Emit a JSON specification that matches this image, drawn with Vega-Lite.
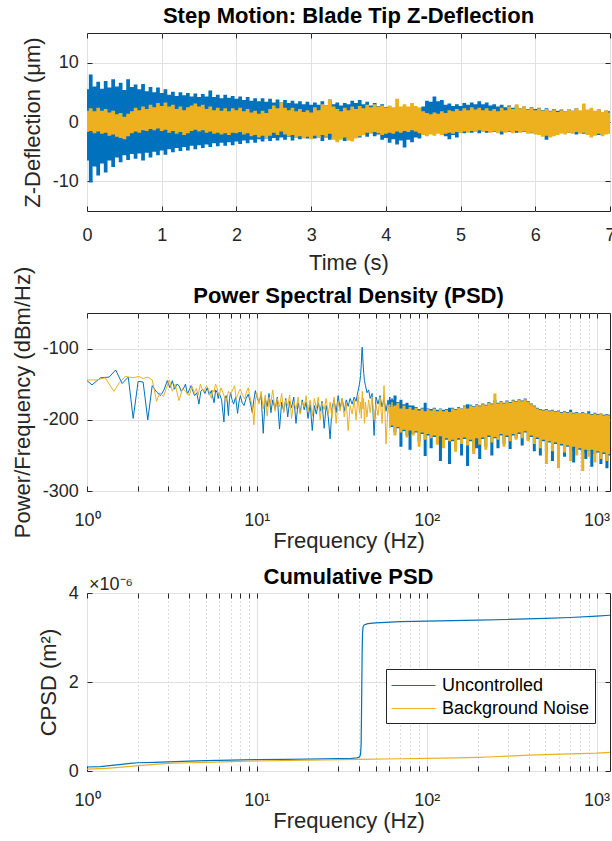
{
  "$schema": "https://vega.github.io/schema/vega-lite/v6.json",
  "padding": {"left": 11, "top": 4, "right": 0, "bottom": 0},
  "config": {
    "font": "Liberation Sans",
    "view": {"stroke": "#262626", "strokeWidth": 1},
    "axis": {
      "labelFont": "Liberation Sans", "labelFontSize": 18, "labelColor": "#262626",
      "titleFont": "Liberation Sans", "titleFontSize": 22, "titleFontWeight": "normal", "titleColor": "#262626",
      "domain": false, "tickColor": "#262626", "tickSize": -5, "tickWidth": 1,
      "gridColor": "#e0e0e0", "gridWidth": 1, "labelFlush": false, "labelOverlap": false
    },
    "title": {"font": "Liberation Sans", "fontSize": 22, "fontWeight": "bold", "color": "#000000", "offset": 4.4, "baseline": "alphabetic"}
  },
  "datasets": {
    "ts": [
      {"t":0,"ulo":-6.5,"uhi":5.5,"blo":-1.7,"bhi":1.9},
      {"t":0.05,"ulo":-10.2,"uhi":8.0,"blo":-1.5,"bhi":2.3},
      {"t":0.1,"ulo":-7.5,"uhi":6.0,"blo":-1.9,"bhi":1.8},
      {"t":0.15,"ulo":-9.0,"uhi":6.8,"blo":-1.6,"bhi":2.4},
      {"t":0.2,"ulo":-7.0,"uhi":5.6,"blo":-2.0,"bhi":1.9},
      {"t":0.25,"ulo":-8.5,"uhi":6.9,"blo":-1.8,"bhi":2.2},
      {"t":0.3,"ulo":-6.5,"uhi":5.8,"blo":-2.3,"bhi":1.6},
      {"t":0.35,"ulo":-7.6,"uhi":7.2,"blo":-2.1,"bhi":1.9},
      {"t":0.4,"ulo":-6.0,"uhi":6.0,"blo":-2.5,"bhi":1.3},
      {"t":0.45,"ulo":-6.8,"uhi":6.6,"blo":-2.7,"bhi":1.5},
      {"t":0.5,"ulo":-5.6,"uhi":5.4,"blo":-2.9,"bhi":0.9},
      {"t":0.55,"ulo":-6.4,"uhi":7.2,"blo":-2.4,"bhi":1.4},
      {"t":0.6,"ulo":-5.4,"uhi":5.9,"blo":-1.9,"bhi":1.8},
      {"t":0.65,"ulo":-6.2,"uhi":6.3,"blo":-1.6,"bhi":2.4},
      {"t":0.7,"ulo":-5.3,"uhi":5.5,"blo":-1.8,"bhi":2.0},
      {"t":0.75,"ulo":-6.5,"uhi":6.4,"blo":-1.4,"bhi":2.6},
      {"t":0.8,"ulo":-5.2,"uhi":5.2,"blo":-1.5,"bhi":2.2},
      {"t":0.85,"ulo":-6.0,"uhi":5.9,"blo":-1.2,"bhi":2.9},
      {"t":0.9,"ulo":-5.0,"uhi":5.0,"blo":-1.4,"bhi":2.5},
      {"t":0.95,"ulo":-5.6,"uhi":5.8,"blo":-1.1,"bhi":3.2},
      {"t":1,"ulo":-4.8,"uhi":4.9,"blo":-1.5,"bhi":2.7},
      {"t":1.05,"ulo":-5.5,"uhi":5.5,"blo":-1.3,"bhi":3.3},
      {"t":1.1,"ulo":-4.6,"uhi":4.6,"blo":-1.8,"bhi":2.6},
      {"t":1.15,"ulo":-5.1,"uhi":5.1,"blo":-1.5,"bhi":2.9},
      {"t":1.2,"ulo":-4.4,"uhi":4.4,"blo":-2.0,"bhi":2.2},
      {"t":1.25,"ulo":-4.9,"uhi":5.0,"blo":-1.7,"bhi":2.6},
      {"t":1.3,"ulo":-4.2,"uhi":4.5,"blo":-2.2,"bhi":2.0},
      {"t":1.35,"ulo":-4.8,"uhi":4.9,"blo":-1.9,"bhi":2.5},
      {"t":1.4,"ulo":-4.0,"uhi":4.3,"blo":-1.5,"bhi":2.8},
      {"t":1.45,"ulo":-4.6,"uhi":4.8,"blo":-1.3,"bhi":3.1},
      {"t":1.5,"ulo":-3.9,"uhi":4.2,"blo":-1.6,"bhi":2.6},
      {"t":1.55,"ulo":-4.4,"uhi":4.7,"blo":-1.4,"bhi":2.9},
      {"t":1.6,"ulo":-3.8,"uhi":4.3,"blo":-1.8,"bhi":2.2},
      {"t":1.65,"ulo":-4.2,"uhi":5.3,"blo":-1.6,"bhi":2.6},
      {"t":1.7,"ulo":-3.6,"uhi":4.2,"blo":-2.0,"bhi":2.0},
      {"t":1.75,"ulo":-4.1,"uhi":4.6,"blo":-1.8,"bhi":2.4},
      {"t":1.8,"ulo":-3.5,"uhi":4.0,"blo":-2.1,"bhi":1.9},
      {"t":1.85,"ulo":-4.0,"uhi":4.6,"blo":-1.9,"bhi":2.3},
      {"t":1.9,"ulo":-3.4,"uhi":4.1,"blo":-2.2,"bhi":1.8},
      {"t":1.95,"ulo":-3.9,"uhi":4.4,"blo":-1.8,"bhi":2.3},
      {"t":2,"ulo":-3.3,"uhi":3.9,"blo":-1.9,"bhi":2.0},
      {"t":2.05,"ulo":-3.7,"uhi":4.3,"blo":-1.7,"bhi":2.4},
      {"t":2.1,"ulo":-3.1,"uhi":3.7,"blo":-2.1,"bhi":1.8},
      {"t":2.15,"ulo":-3.6,"uhi":4.2,"blo":-1.9,"bhi":2.2},
      {"t":2.2,"ulo":-3.0,"uhi":3.6,"blo":-2.4,"bhi":1.6},
      {"t":2.25,"ulo":-3.5,"uhi":4.0,"blo":-2.2,"bhi":1.9},
      {"t":2.3,"ulo":-2.9,"uhi":3.5,"blo":-2.6,"bhi":1.4},
      {"t":2.35,"ulo":-3.3,"uhi":4.0,"blo":-2.3,"bhi":1.9},
      {"t":2.4,"ulo":-2.8,"uhi":3.4,"blo":-2.7,"bhi":1.5},
      {"t":2.45,"ulo":-3.2,"uhi":3.9,"blo":-2.3,"bhi":2.2},
      {"t":2.5,"ulo":-2.7,"uhi":3.3,"blo":-1.8,"bhi":2.8},
      {"t":2.55,"ulo":-3.1,"uhi":3.8,"blo":-2.2,"bhi":2.3},
      {"t":2.6,"ulo":-2.6,"uhi":3.3,"blo":-1.6,"bhi":3.3},
      {"t":2.65,"ulo":-3.0,"uhi":3.7,"blo":-2.1,"bhi":2.4},
      {"t":2.7,"ulo":-2.5,"uhi":3.2,"blo":-2.4,"bhi":2.0},
      {"t":2.75,"ulo":-3.1,"uhi":3.6,"blo":-2.2,"bhi":2.4},
      {"t":2.8,"ulo":-2.6,"uhi":3.1,"blo":-2.6,"bhi":1.8},
      {"t":2.85,"ulo":-2.9,"uhi":3.5,"blo":-2.4,"bhi":2.2},
      {"t":2.9,"ulo":-2.4,"uhi":3.0,"blo":-2.8,"bhi":1.7},
      {"t":2.95,"ulo":-2.8,"uhi":3.4,"blo":-2.5,"bhi":2.0},
      {"t":3,"ulo":-2.4,"uhi":2.9,"blo":-2.9,"bhi":1.6},
      {"t":3.05,"ulo":-2.8,"uhi":3.3,"blo":-2.3,"bhi":2.5},
      {"t":3.1,"ulo":-2.3,"uhi":2.9,"blo":-2.7,"bhi":2.0},
      {"t":3.15,"ulo":-3.2,"uhi":3.5,"blo":-2.2,"bhi":3.0},
      {"t":3.2,"ulo":-2.6,"uhi":2.8,"blo":-2.5,"bhi":2.7},
      {"t":3.25,"ulo":-3.0,"uhi":3.8,"blo":-2.0,"bhi":3.8},
      {"t":3.3,"ulo":-2.6,"uhi":3.0,"blo":-3.0,"bhi":2.6},
      {"t":3.35,"ulo":-3.1,"uhi":3.3,"blo":-3.4,"bhi":2.2},
      {"t":3.4,"ulo":-2.5,"uhi":2.8,"blo":-3.0,"bhi":1.8},
      {"t":3.45,"ulo":-3.2,"uhi":3.2,"blo":-2.6,"bhi":2.4},
      {"t":3.5,"ulo":-2.6,"uhi":3.0,"blo":-3.1,"bhi":2.0},
      {"t":3.55,"ulo":-2.9,"uhi":3.6,"blo":-3.3,"bhi":2.6},
      {"t":3.6,"ulo":-2.2,"uhi":3.2,"blo":-2.8,"bhi":2.2},
      {"t":3.65,"ulo":-2.6,"uhi":3.7,"blo":-2.4,"bhi":2.7},
      {"t":3.7,"ulo":-2.0,"uhi":3.0,"blo":-2.2,"bhi":2.3},
      {"t":3.75,"ulo":-2.5,"uhi":3.4,"blo":-1.8,"bhi":2.9},
      {"t":3.8,"ulo":-1.9,"uhi":2.8,"blo":-2.0,"bhi":2.5},
      {"t":3.85,"ulo":-2.4,"uhi":3.2,"blo":-1.7,"bhi":3.0},
      {"t":3.9,"ulo":-2.1,"uhi":2.7,"blo":-1.9,"bhi":2.6},
      {"t":3.95,"ulo":-3.0,"uhi":3.0,"blo":-2.2,"bhi":2.8},
      {"t":4,"ulo":-2.7,"uhi":2.5,"blo":-2.0,"bhi":2.4},
      {"t":4.05,"ulo":-3.5,"uhi":2.6,"blo":-1.8,"bhi":2.8},
      {"t":4.1,"ulo":-2.9,"uhi":2.3,"blo":-2.0,"bhi":2.5},
      {"t":4.15,"ulo":-3.8,"uhi":2.5,"blo":-1.6,"bhi":3.9},
      {"t":4.2,"ulo":-3.1,"uhi":2.2,"blo":-1.8,"bhi":2.6},
      {"t":4.25,"ulo":-4.3,"uhi":2.5,"blo":-1.5,"bhi":3.0},
      {"t":4.3,"ulo":-3.0,"uhi":2.2,"blo":-1.7,"bhi":2.6},
      {"t":4.35,"ulo":-3.4,"uhi":2.4,"blo":-1.4,"bhi":3.2},
      {"t":4.4,"ulo":-2.6,"uhi":2.1,"blo":-1.6,"bhi":2.7},
      {"t":4.45,"ulo":-2.8,"uhi":2.4,"blo":-1.9,"bhi":2.4},
      {"t":4.5,"ulo":-1.8,"uhi":2.6,"blo":-2.2,"bhi":1.8},
      {"t":4.55,"ulo":-2.1,"uhi":3.6,"blo":-2.4,"bhi":1.5},
      {"t":4.6,"ulo":-1.6,"uhi":3.4,"blo":-2.1,"bhi":1.3},
      {"t":4.65,"ulo":-2.0,"uhi":4.3,"blo":-2.3,"bhi":1.6},
      {"t":4.7,"ulo":-1.7,"uhi":3.5,"blo":-2.0,"bhi":1.4},
      {"t":4.75,"ulo":-2.2,"uhi":3.7,"blo":-2.2,"bhi":1.8},
      {"t":4.8,"ulo":-2.4,"uhi":2.9,"blo":-2.0,"bhi":1.5},
      {"t":4.85,"ulo":-2.9,"uhi":3.1,"blo":-1.8,"bhi":2.0},
      {"t":4.9,"ulo":-2.2,"uhi":2.7,"blo":-2.0,"bhi":1.8},
      {"t":4.95,"ulo":-2.6,"uhi":3.0,"blo":-1.7,"bhi":2.2},
      {"t":5,"ulo":-1.6,"uhi":2.7,"blo":-1.9,"bhi":1.9},
      {"t":5.05,"ulo":-1.9,"uhi":3.2,"blo":-1.6,"bhi":2.3},
      {"t":5.1,"ulo":-1.4,"uhi":2.9,"blo":-1.8,"bhi":2.0},
      {"t":5.15,"ulo":-1.8,"uhi":3.3,"blo":-1.5,"bhi":2.5},
      {"t":5.2,"ulo":-1.3,"uhi":3.0,"blo":-1.7,"bhi":2.1},
      {"t":5.25,"ulo":-1.9,"uhi":3.5,"blo":-1.4,"bhi":2.4},
      {"t":5.3,"ulo":-1.4,"uhi":3.0,"blo":-1.7,"bhi":2.0},
      {"t":5.35,"ulo":-1.8,"uhi":3.3,"blo":-1.5,"bhi":2.3},
      {"t":5.4,"ulo":-1.3,"uhi":2.8,"blo":-1.8,"bhi":1.9},
      {"t":5.45,"ulo":-1.7,"uhi":3.0,"blo":-1.6,"bhi":2.2},
      {"t":5.5,"ulo":-1.2,"uhi":2.6,"blo":-1.9,"bhi":1.8},
      {"t":5.55,"ulo":-2.1,"uhi":2.9,"blo":-1.6,"bhi":2.4},
      {"t":5.6,"ulo":-1.4,"uhi":2.5,"blo":-1.8,"bhi":2.0},
      {"t":5.65,"ulo":-1.7,"uhi":2.8,"blo":-1.6,"bhi":2.6},
      {"t":5.7,"ulo":-1.3,"uhi":2.4,"blo":-1.9,"bhi":2.2},
      {"t":5.75,"ulo":-1.8,"uhi":2.7,"blo":-1.5,"bhi":3.0},
      {"t":5.8,"ulo":-1.3,"uhi":2.3,"blo":-1.8,"bhi":2.3},
      {"t":5.85,"ulo":-1.7,"uhi":2.6,"blo":-1.6,"bhi":2.6},
      {"t":5.9,"ulo":-1.4,"uhi":2.2,"blo":-2.0,"bhi":2.1},
      {"t":5.95,"ulo":-1.9,"uhi":2.5,"blo":-1.8,"bhi":2.4},
      {"t":6,"ulo":-1.5,"uhi":2.2,"blo":-2.1,"bhi":2.0},
      {"t":6.05,"ulo":-2.0,"uhi":2.4,"blo":-2.2,"bhi":2.3},
      {"t":6.1,"ulo":-1.6,"uhi":2.0,"blo":-2.5,"bhi":1.9},
      {"t":6.15,"ulo":-3.0,"uhi":2.3,"blo":-2.3,"bhi":2.2},
      {"t":6.2,"ulo":-1.7,"uhi":1.9,"blo":-2.6,"bhi":1.8},
      {"t":6.25,"ulo":-2.0,"uhi":2.2,"blo":-2.4,"bhi":2.1},
      {"t":6.3,"ulo":-1.5,"uhi":1.9,"blo":-2.2,"bhi":1.7},
      {"t":6.35,"ulo":-1.9,"uhi":2.1,"blo":-1.9,"bhi":2.0},
      {"t":6.4,"ulo":-1.4,"uhi":1.8,"blo":-2.1,"bhi":1.8},
      {"t":6.45,"ulo":-1.8,"uhi":2.2,"blo":-1.8,"bhi":2.2},
      {"t":6.5,"ulo":-1.5,"uhi":1.9,"blo":-2.0,"bhi":1.9},
      {"t":6.55,"ulo":-2.1,"uhi":2.3,"blo":-1.7,"bhi":2.3},
      {"t":6.6,"ulo":-1.6,"uhi":1.8,"blo":-2.0,"bhi":2.0},
      {"t":6.65,"ulo":-2.0,"uhi":2.1,"blo":-1.8,"bhi":3.1},
      {"t":6.7,"ulo":-1.5,"uhi":1.7,"blo":-2.2,"bhi":2.1},
      {"t":6.75,"ulo":-1.9,"uhi":2.0,"blo":-2.6,"bhi":2.4},
      {"t":6.8,"ulo":-1.6,"uhi":1.7,"blo":-2.3,"bhi":1.9},
      {"t":6.85,"ulo":-2.2,"uhi":2.1,"blo":-2.0,"bhi":2.2},
      {"t":6.9,"ulo":-1.7,"uhi":1.6,"blo":-2.4,"bhi":1.7},
      {"t":6.95,"ulo":-2.0,"uhi":1.9,"blo":-2.1,"bhi":2.0},
      {"t":7,"ulo":-1.6,"uhi":1.8,"blo":-2.0,"bhi":1.6}
    ],
    "psdl": [
      {"f":1,"s":"U","v":-145},{"f":1.07,"s":"U","v":-151},{"f":1.2,"s":"U","v":-141},{"f":1.35,"s":"U","v":-140},
      {"f":1.475,"s":"U","v":-130},{"f":1.61,"s":"U","v":-149},{"f":1.75,"s":"U","v":-140},{"f":1.87,"s":"U","v":-198},
      {"f":2,"s":"U","v":-146},{"f":2.14,"s":"U","v":-147},{"f":2.28,"s":"U","v":-200},{"f":2.42,"s":"U","v":-152},
      {"f":2.57,"s":"U","v":-161},{"f":2.71,"s":"U","v":-166},{"f":2.84,"s":"U","v":-158},{"f":2.97,"s":"U","v":-145},
      {"f":3.08,"s":"U","v":-155},{"f":3.18,"s":"U","v":-145},{"f":3.28,"s":"U","v":-157},{"f":3.38,"s":"U","v":-150},
      {"f":3.48,"s":"U","v":-152},{"f":3.59,"s":"U","v":-160},{"f":3.7,"s":"U","v":-156},{"f":3.8,"s":"U","v":-150},
      {"f":3.9,"s":"U","v":-164},{"f":4,"s":"U","v":-158},{"f":4.1,"s":"U","v":-152},{"f":4.2,"s":"U","v":-160},
      {"f":4.3,"s":"U","v":-166},{"f":4.43,"s":"U","v":-162},{"f":4.56,"s":"U","v":-178},{"f":4.68,"s":"U","v":-160},
      {"f":4.8,"s":"U","v":-157},{"f":4.95,"s":"U","v":-163},{"f":5.1,"s":"U","v":-155},{"f":5.25,"s":"U","v":-165},
      {"f":5.4,"s":"U","v":-159},{"f":5.5,"s":"U","v":-168},{"f":5.6,"s":"U","v":-176},{"f":5.72,"s":"U","v":-158},
      {"f":5.84,"s":"U","v":-162},{"f":5.92,"s":"U","v":-170},{"f":6,"s":"U","v":-162},{"f":6.2,"s":"U","v":-172},
      {"f":6.4,"s":"U","v":-203},{"f":6.5,"s":"U","v":-170},{"f":6.6,"s":"U","v":-166},{"f":6.7,"s":"U","v":-175},
      {"f":6.8,"s":"U","v":-194},{"f":6.9,"s":"U","v":-170},{"f":7,"s":"U","v":-162},{"f":7.15,"s":"U","v":-172},
      {"f":7.3,"s":"U","v":-178},{"f":7.5,"s":"U","v":-168},{"f":7.7,"s":"U","v":-191},{"f":7.85,"s":"U","v":-175},
      {"f":8,"s":"U","v":-166},{"f":8.2,"s":"U","v":-176},{"f":8.4,"s":"U","v":-180},{"f":8.65,"s":"U","v":-170},
      {"f":8.9,"s":"U","v":-164},{"f":9.15,"s":"U","v":-175},{"f":9.4,"s":"U","v":-190},{"f":9.6,"s":"U","v":-172},
      {"f":9.8,"s":"U","v":-159},{"f":10,"s":"U","v":-168},
      {"f":10.3,"s":"U","v":-175},{"f":10.6,"s":"U","v":-165},{"f":10.9,"s":"U","v":-219},{"f":11.2,"s":"U","v":-170},
      {"f":11.5,"s":"U","v":-182},{"f":11.8,"s":"U","v":-163},{"f":12.1,"s":"U","v":-190},{"f":12.4,"s":"U","v":-172},
      {"f":12.8,"s":"U","v":-185},{"f":13.2,"s":"U","v":-168},{"f":13.6,"s":"U","v":-213},{"f":14,"s":"U","v":-175},
      {"f":14.4,"s":"U","v":-188},{"f":14.8,"s":"U","v":-170},{"f":15.2,"s":"U","v":-196},{"f":15.6,"s":"U","v":-174},
      {"f":16,"s":"U","v":-183},{"f":16.5,"s":"U","v":-168},{"f":17,"s":"U","v":-205},{"f":17.5,"s":"U","v":-176},
      {"f":18,"s":"U","v":-190},{"f":18.5,"s":"U","v":-172},{"f":19,"s":"U","v":-186},{"f":19.5,"s":"U","v":-175},
      {"f":20,"s":"U","v":-198},{"f":20.6,"s":"U","v":-178},{"f":21.2,"s":"U","v":-215},{"f":21.8,"s":"U","v":-180},
      {"f":22.4,"s":"U","v":-192},{"f":23,"s":"U","v":-176},{"f":23.6,"s":"U","v":-188},{"f":24.2,"s":"U","v":-174},
      {"f":24.9,"s":"U","v":-212},{"f":25.6,"s":"U","v":-180},{"f":26.3,"s":"U","v":-195},{"f":27,"s":"U","v":-227},
      {"f":27.7,"s":"U","v":-183},{"f":28.5,"s":"U","v":-172},{"f":29.3,"s":"U","v":-190},{"f":30.1,"s":"U","v":-166},
      {"f":30.9,"s":"U","v":-184},{"f":31.8,"s":"U","v":-170},{"f":32.7,"s":"U","v":-188},{"f":33.6,"s":"U","v":-172},
      {"f":34.5,"s":"U","v":-181},{"f":35.4,"s":"U","v":-170},{"f":36.4,"s":"U","v":-178},{"f":37.4,"s":"U","v":-168},
      {"f":38.4,"s":"U","v":-174},{"f":39.4,"s":"U","v":-160},{"f":40.2,"s":"U","v":-150},{"f":40.8,"s":"U","v":-138},
      {"f":41.2,"s":"U","v":-122},{"f":41.5,"s":"U","v":-105},{"f":41.7,"s":"U","v":-98},{"f":41.9,"s":"U","v":-106},
      {"f":42.2,"s":"U","v":-120},{"f":42.6,"s":"U","v":-135},{"f":43,"s":"U","v":-145},{"f":43.6,"s":"U","v":-152},
      {"f":44.5,"s":"U","v":-162},{"f":45.5,"s":"U","v":-158},{"f":46.5,"s":"U","v":-170},{"f":47.7,"s":"U","v":-163},
      {"f":49,"s":"U","v":-222},{"f":50.3,"s":"U","v":-168},{"f":51.7,"s":"U","v":-178},{"f":53.1,"s":"U","v":-166},
      {"f":54.6,"s":"U","v":-182},{"f":56.1,"s":"U","v":-170},{"f":57.6,"s":"U","v":-188},{"f":59.2,"s":"U","v":-172},
      {"f":60.8,"s":"U","v":-190},{"f":62.5,"s":"U","v":-170},{"f":64.2,"s":"U","v":-185},{"f":66,"s":"U","v":-168},
      {"f":1,"s":"B","v":-144},{"f":1.14,"s":"B","v":-144},{"f":1.28,"s":"B","v":-141},{"f":1.44,"s":"B","v":-160},
      {"f":1.55,"s":"B","v":-148},{"f":1.68,"s":"B","v":-139},{"f":1.87,"s":"B","v":-141},{"f":2.02,"s":"B","v":-139},
      {"f":2.14,"s":"B","v":-142},{"f":2.28,"s":"B","v":-140},{"f":2.42,"s":"B","v":-144},{"f":2.57,"s":"B","v":-174},
      {"f":2.68,"s":"B","v":-162},{"f":2.82,"s":"B","v":-167},{"f":3.05,"s":"B","v":-144},{"f":3.18,"s":"B","v":-160},
      {"f":3.3,"s":"B","v":-150},{"f":3.48,"s":"B","v":-173},{"f":3.65,"s":"B","v":-156},{"f":3.8,"s":"B","v":-160},
      {"f":4,"s":"B","v":-166},{"f":4.15,"s":"B","v":-153},{"f":4.28,"s":"B","v":-162},{"f":4.4,"s":"B","v":-156},
      {"f":4.52,"s":"B","v":-165},{"f":4.65,"s":"B","v":-150},{"f":4.78,"s":"B","v":-158},{"f":4.9,"s":"B","v":-160},
      {"f":5.05,"s":"B","v":-152},{"f":5.2,"s":"B","v":-157},{"f":5.3,"s":"B","v":-165},{"f":5.4,"s":"B","v":-170},
      {"f":5.5,"s":"B","v":-158},{"f":5.6,"s":"B","v":-161},{"f":5.7,"s":"B","v":-150},{"f":5.8,"s":"B","v":-152},
      {"f":5.9,"s":"B","v":-163},{"f":6,"s":"B","v":-166},{"f":6.15,"s":"B","v":-155},{"f":6.3,"s":"B","v":-161},
      {"f":6.45,"s":"B","v":-168},{"f":6.6,"s":"B","v":-174},{"f":6.8,"s":"B","v":-160},{"f":7,"s":"B","v":-164},
      {"f":7.2,"s":"B","v":-158},{"f":7.4,"s":"B","v":-152},{"f":7.55,"s":"B","v":-170},{"f":7.7,"s":"B","v":-166},
      {"f":7.85,"s":"B","v":-160},{"f":8,"s":"B","v":-157},{"f":8.25,"s":"B","v":-166},{"f":8.5,"s":"B","v":-171},
      {"f":8.7,"s":"B","v":-160},{"f":8.9,"s":"B","v":-155},{"f":9.1,"s":"B","v":-168},{"f":9.3,"s":"B","v":-176},
      {"f":9.45,"s":"B","v":-185},{"f":9.6,"s":"B","v":-207},{"f":9.8,"s":"B","v":-172},{"f":10,"s":"B","v":-162},
      {"f":10.3,"s":"B","v":-178},{"f":10.6,"s":"B","v":-160},{"f":10.9,"s":"B","v":-185},{"f":11.2,"s":"B","v":-165},
      {"f":11.5,"s":"B","v":-195},{"f":11.8,"s":"B","v":-168},{"f":12.1,"s":"B","v":-176},{"f":12.4,"s":"B","v":-158},
      {"f":12.8,"s":"B","v":-188},{"f":13.2,"s":"B","v":-170},{"f":13.6,"s":"B","v":-182},{"f":14,"s":"B","v":-163},
      {"f":14.4,"s":"B","v":-190},{"f":14.8,"s":"B","v":-172},{"f":15.2,"s":"B","v":-180},{"f":15.6,"s":"B","v":-165},
      {"f":16,"s":"B","v":-198},{"f":16.5,"s":"B","v":-174},{"f":17,"s":"B","v":-185},{"f":17.5,"s":"B","v":-168},
      {"f":18,"s":"B","v":-192},{"f":18.5,"s":"B","v":-175},{"f":19,"s":"B","v":-182},{"f":19.5,"s":"B","v":-166},
      {"f":20,"s":"B","v":-189},{"f":20.6,"s":"B","v":-172},{"f":21.2,"s":"B","v":-195},{"f":21.8,"s":"B","v":-170},
      {"f":22.4,"s":"B","v":-184},{"f":23,"s":"B","v":-168},{"f":23.6,"s":"B","v":-200},{"f":24.2,"s":"B","v":-176},
      {"f":24.9,"s":"B","v":-186},{"f":25.6,"s":"B","v":-170},{"f":26.3,"s":"B","v":-192},{"f":27,"s":"B","v":-175},
      {"f":27.7,"s":"B","v":-198},{"f":28.5,"s":"B","v":-168},{"f":29.3,"s":"B","v":-205},{"f":30.1,"s":"B","v":-174},
      {"f":30.9,"s":"B","v":-188},{"f":31.8,"s":"B","v":-170},{"f":32.7,"s":"B","v":-196},{"f":33.6,"s":"B","v":-176},
      {"f":34.5,"s":"B","v":-215},{"f":35.4,"s":"B","v":-180},{"f":36.4,"s":"B","v":-192},{"f":37.4,"s":"B","v":-172},
      {"f":38.4,"s":"B","v":-200},{"f":39.4,"s":"B","v":-165},{"f":40.2,"s":"B","v":-190},{"f":40.8,"s":"B","v":-175},
      {"f":41.2,"s":"B","v":-198},{"f":41.5,"s":"B","v":-172},{"f":41.8,"s":"B","v":-160},{"f":42.1,"s":"B","v":-185},
      {"f":42.5,"s":"B","v":-170},{"f":43,"s":"B","v":-205},{"f":43.6,"s":"B","v":-175},{"f":44.5,"s":"B","v":-196},
      {"f":45.5,"s":"B","v":-172},{"f":46.5,"s":"B","v":-190},{"f":47.7,"s":"B","v":-168},{"f":49,"s":"B","v":-200},
      {"f":50.3,"s":"B","v":-178},{"f":51.7,"s":"B","v":-194},{"f":53.1,"s":"B","v":-168},{"f":54.6,"s":"B","v":-205},
      {"f":56.1,"s":"B","v":-152},{"f":57.6,"s":"B","v":-234},{"f":59.2,"s":"B","v":-180},{"f":60.8,"s":"B","v":-200},
      {"f":62.5,"s":"B","v":-175},{"f":64.2,"s":"B","v":-210},{"f":66,"s":"B","v":-180}
    ],
    "psdb": [
      {"f":60,"bhi":-178,"blo":-212,"uhi":-168,"ulo":-205},
      {"f":62.5,"bhi":-182,"blo":-208,"uhi":-172,"ulo":-210},
      {"f":65,"bhi":-180,"blo":-222,"uhi":-166,"ulo":-218},
      {"f":67.7,"bhi":-176,"blo":-210,"uhi":-175,"ulo":-212},
      {"f":70.5,"bhi":-184,"blo":-218,"uhi":-172,"ulo":-238},
      {"f":73.5,"bhi":-180,"blo":-214,"uhi":-178,"ulo":-216},
      {"f":76.6,"bhi":-185,"blo":-225,"uhi":-176,"ulo":-222},
      {"f":79.8,"bhi":-182,"blo":-215,"uhi":-180,"ulo":-242},
      {"f":83.1,"bhi":-186,"blo":-222,"uhi":-180,"ulo":-220},
      {"f":86.6,"bhi":-183,"blo":-216,"uhi":-182,"ulo":-218},
      {"f":90.2,"bhi":-187,"blo":-238,"uhi":-185,"ulo":-230},
      {"f":94,"bhi":-184,"blo":-218,"uhi":-183,"ulo":-220},
      {"f":98,"bhi":-188,"blo":-228,"uhi":-176,"ulo":-251},
      {"f":102,"bhi":-185,"blo":-220,"uhi":-184,"ulo":-222},
      {"f":106,"bhi":-187,"blo":-226,"uhi":-185,"ulo":-240},
      {"f":111,"bhi":-184,"blo":-222,"uhi":-183,"ulo":-224},
      {"f":115.6,"bhi":-188,"blo":-235,"uhi":-186,"ulo":-233},
      {"f":120.5,"bhi":-185,"blo":-223,"uhi":-184,"ulo":-258},
      {"f":125.5,"bhi":-188,"blo":-240,"uhi":-186,"ulo":-236},
      {"f":130.8,"bhi":-186,"blo":-226,"uhi":-185,"ulo":-228},
      {"f":136.3,"bhi":-189,"blo":-230,"uhi":-183,"ulo":-262},
      {"f":142,"bhi":-184,"blo":-228,"uhi":-183,"ulo":-230},
      {"f":148,"bhi":-186,"blo":-245,"uhi":-185,"ulo":-240},
      {"f":154,"bhi":-183,"blo":-226,"uhi":-182,"ulo":-228},
      {"f":160.5,"bhi":-185,"blo":-234,"uhi":-184,"ulo":-250},
      {"f":167,"bhi":-181,"blo":-225,"uhi":-180,"ulo":-227},
      {"f":174,"bhi":-184,"blo":-236,"uhi":-178,"ulo":-265},
      {"f":181.5,"bhi":-180,"blo":-228,"uhi":-179,"ulo":-230},
      {"f":189,"bhi":-182,"blo":-248,"uhi":-181,"ulo":-244},
      {"f":197,"bhi":-179,"blo":-226,"uhi":-178,"ulo":-240},
      {"f":205,"bhi":-181,"blo":-235,"uhi":-180,"ulo":-255},
      {"f":214,"bhi":-178,"blo":-225,"uhi":-177,"ulo":-227},
      {"f":223,"bhi":-180,"blo":-242,"uhi":-179,"ulo":-238},
      {"f":232,"bhi":-176,"blo":-222,"uhi":-175,"ulo":-224},
      {"f":242,"bhi":-178,"blo":-232,"uhi":-177,"ulo":-250},
      {"f":252,"bhi":-163,"blo":-224,"uhi":-172,"ulo":-226},
      {"f":263,"bhi":-177,"blo":-228,"uhi":-176,"ulo":-240},
      {"f":274,"bhi":-175,"blo":-220,"uhi":-174,"ulo":-222},
      {"f":285,"bhi":-177,"blo":-238,"uhi":-176,"ulo":-234},
      {"f":297,"bhi":-174,"blo":-222,"uhi":-173,"ulo":-224},
      {"f":310,"bhi":-176,"blo":-230,"uhi":-175,"ulo":-241},
      {"f":323,"bhi":-173,"blo":-220,"uhi":-172,"ulo":-222},
      {"f":336,"bhi":-175,"blo":-228,"uhi":-174,"ulo":-226},
      {"f":350,"bhi":-172,"blo":-218,"uhi":-171,"ulo":-220},
      {"f":365,"bhi":-174,"blo":-226,"uhi":-173,"ulo":-236},
      {"f":380,"bhi":-171,"blo":-216,"uhi":-170,"ulo":-218},
      {"f":396,"bhi":-175,"blo":-230,"uhi":-174,"ulo":-228},
      {"f":413,"bhi":-178,"blo":-222,"uhi":-177,"ulo":-224},
      {"f":430,"bhi":-181,"blo":-234,"uhi":-180,"ulo":-244},
      {"f":448,"bhi":-184,"blo":-225,"uhi":-183,"ulo":-227},
      {"f":467,"bhi":-186,"blo":-240,"uhi":-185,"ulo":-250},
      {"f":486,"bhi":-187,"blo":-228,"uhi":-186,"ulo":-230},
      {"f":507,"bhi":-186,"blo":-262,"uhi":-185,"ulo":-245},
      {"f":528,"bhi":-188,"blo":-230,"uhi":-187,"ulo":-232},
      {"f":550,"bhi":-187,"blo":-244,"uhi":-186,"ulo":-258},
      {"f":573,"bhi":-189,"blo":-232,"uhi":-188,"ulo":-234},
      {"f":597,"bhi":-188,"blo":-268,"uhi":-187,"ulo":-240},
      {"f":622,"bhi":-190,"blo":-234,"uhi":-189,"ulo":-236},
      {"f":648,"bhi":-189,"blo":-246,"uhi":-188,"ulo":-252},
      {"f":675,"bhi":-190,"blo":-236,"uhi":-189,"ulo":-238},
      {"f":704,"bhi":-189,"blo":-258,"uhi":-186,"ulo":-244},
      {"f":733,"bhi":-191,"blo":-238,"uhi":-190,"ulo":-260},
      {"f":764,"bhi":-190,"blo":-250,"uhi":-189,"ulo":-240},
      {"f":796,"bhi":-192,"blo":-240,"uhi":-191,"ulo":-242},
      {"f":829,"bhi":-190,"blo":-272,"uhi":-189,"ulo":-246},
      {"f":864,"bhi":-192,"blo":-242,"uhi":-191,"ulo":-255},
      {"f":900,"bhi":-191,"blo":-252,"uhi":-188,"ulo":-244},
      {"f":938,"bhi":-193,"blo":-242,"uhi":-192,"ulo":-266},
      {"f":977,"bhi":-191,"blo":-260,"uhi":-190,"ulo":-248},
      {"f":1018,"bhi":-193,"blo":-244,"uhi":-192,"ulo":-246},
      {"f":1061,"bhi":-192,"blo":-255,"uhi":-191,"ulo":-262},
      {"f":1105,"bhi":-194,"blo":-246,"uhi":-193,"ulo":-248},
      {"f":1151,"bhi":-193,"blo":-258,"uhi":-192,"ulo":-268},
      {"f":1200,"bhi":-194,"blo":-248,"uhi":-193,"ulo":-250}
    ],
    "cum": [
      {"f":1,"series":"Uncontrolled","c":9.0e-8},{"f":1.2,"series":"Uncontrolled","c":1.0e-7},{"f":1.4,"series":"Uncontrolled","c":1.25e-7},
      {"f":1.6,"series":"Uncontrolled","c":1.5e-7},{"f":1.8,"series":"Uncontrolled","c":1.72e-7},{"f":2,"series":"Uncontrolled","c":1.85e-7},
      {"f":2.5,"series":"Uncontrolled","c":1.95e-7},{"f":3,"series":"Uncontrolled","c":2.05e-7},{"f":4,"series":"Uncontrolled","c":2.2e-7},
      {"f":5,"series":"Uncontrolled","c":2.32e-7},{"f":7,"series":"Uncontrolled","c":2.45e-7},{"f":10,"series":"Uncontrolled","c":2.55e-7},
      {"f":15,"series":"Uncontrolled","c":2.62e-7},{"f":20,"series":"Uncontrolled","c":2.68e-7},{"f":30,"series":"Uncontrolled","c":2.76e-7},
      {"f":36,"series":"Uncontrolled","c":2.85e-7},{"f":39,"series":"Uncontrolled","c":2.95e-7},{"f":40.3,"series":"Uncontrolled","c":3.2e-7},
      {"f":40.8,"series":"Uncontrolled","c":3.8e-7},{"f":41.1,"series":"Uncontrolled","c":6.0e-7},{"f":41.3,"series":"Uncontrolled","c":1.2e-6},
      {"f":41.5,"series":"Uncontrolled","c":2.0e-6},{"f":41.7,"series":"Uncontrolled","c":2.7e-6},{"f":41.9,"series":"Uncontrolled","c":3.1e-6},
      {"f":42.2,"series":"Uncontrolled","c":3.24e-6},{"f":42.8,"series":"Uncontrolled","c":3.28e-6},{"f":45,"series":"Uncontrolled","c":3.31e-6},
      {"f":50,"series":"Uncontrolled","c":3.33e-6},{"f":70,"series":"Uncontrolled","c":3.355e-6},{"f":100,"series":"Uncontrolled","c":3.37e-6},
      {"f":200,"series":"Uncontrolled","c":3.39e-6},{"f":300,"series":"Uncontrolled","c":3.405e-6},{"f":500,"series":"Uncontrolled","c":3.43e-6},
      {"f":700,"series":"Uncontrolled","c":3.45e-6},{"f":1000,"series":"Uncontrolled","c":3.48e-6},{"f":1200,"series":"Uncontrolled","c":3.5e-6},
      {"f":1,"series":"Background Noise","c":4.0e-8},{"f":1.3,"series":"Background Noise","c":6.0e-8},{"f":1.6,"series":"Background Noise","c":8.5e-8},
      {"f":2,"series":"Background Noise","c":1.2e-7},{"f":2.5,"series":"Background Noise","c":1.5e-7},{"f":3,"series":"Background Noise","c":1.7e-7},
      {"f":4,"series":"Background Noise","c":1.85e-7},{"f":5,"series":"Background Noise","c":1.95e-7},{"f":7,"series":"Background Noise","c":2.1e-7},
      {"f":10,"series":"Background Noise","c":2.25e-7},{"f":20,"series":"Background Noise","c":2.45e-7},{"f":40,"series":"Background Noise","c":2.6e-7},
      {"f":70,"series":"Background Noise","c":2.75e-7},{"f":100,"series":"Background Noise","c":2.85e-7},{"f":150,"series":"Background Noise","c":2.95e-7},
      {"f":200,"series":"Background Noise","c":3.05e-7},{"f":250,"series":"Background Noise","c":3.2e-7},{"f":300,"series":"Background Noise","c":3.35e-7},
      {"f":400,"series":"Background Noise","c":3.55e-7},{"f":500,"series":"Background Noise","c":3.68e-7},{"f":700,"series":"Background Noise","c":3.85e-7},
      {"f":1000,"series":"Background Noise","c":4.0e-7},{"f":1200,"series":"Background Noise","c":4.2e-7}
    ],
    "note": [{"f":1,"c":4e-6,"label":"×10⁻⁶"}]
  },
  "resolve": {"scale": {"color": "independent"}, "legend": {"color": "independent"}},
  "bounds": "flush",
  "spacing": 102,
  "vconcat": [
    {
      "width": 523, "height": 178,
      "title": {"text": "Step Motion: Blade Tip Z-Deflection"},
      "data": {"name": "ts"},
      "resolve": {"axis": {"x": "independent", "y": "independent"}},
      "layer": [
        {
          "mark": {"type": "area", "color": "#0072BD", "opacity": 1, "interpolate": "step"},
          "encoding": {
            "x": {"field": "t", "type": "quantitative", "scale": {"domain": [0, 7], "nice": false},
                  "axis": {"title": "Time (s)", "values": [0,1,2,3,4,5,6,7], "labelExpr": "'' + datum.value", "labelPadding": 20.7, "titlePadding": 8}},
            "y": {"field": "ulo", "type": "quantitative", "scale": {"domain": [-15, 15], "nice": false, "zero": false},
                  "axis": {"title": "Z-Deflection (μm)", "values": [-10, 0, 10], "labelExpr": "'' + datum.value", "labelPadding": 13.7, "titlePadding": 7.5}},
            "y2": {"field": "uhi"}
          }
        },
        {
          "mark": {"type": "area", "color": "#EDB120", "opacity": 1, "interpolate": "step"},
          "encoding": {
            "x": {"field": "t", "type": "quantitative",
                  "axis": {"orient": "top", "values": [0,1,2,3,4,5,6,7], "labels": false, "title": null, "grid": false}},
            "y": {"field": "blo", "type": "quantitative",
                  "axis": {"orient": "right", "values": [-10, 0, 10], "labels": false, "title": null, "grid": false}},
            "y2": {"field": "bhi"}
          }
        }
      ]
    },
    {
      "width": 523, "height": 178,
      "title": {"text": "Power Spectral Density (PSD)", "dy": 46.5},
      "resolve": {"axis": {"x": "independent", "y": "independent"}},
      "layer": [
        {
          "data": {"name": "psdb"},
          "mark": {"type": "area", "color": "#0072BD", "opacity": 1, "clip": true, "interpolate": "step"},
          "encoding": {
            "x": {"field": "f", "type": "quantitative", "scale": {"type": "log", "domain": [1, 1200], "nice": false},
                  "axis": {"title": "Frequency (Hz)",
                           "values": [1,2,3,4,5,6,7,8,9,10,20,30,40,50,60,70,80,90,100,200,300,400,500,600,700,800,900,1000],
                           "labelExpr": "datum.value == 1 ? '10⁰' : datum.value == 10 ? '10¹' : datum.value == 100 ? '10²' : datum.value == 1000 ? '10³' : ''",
                           "labelPadding": 25.2, "titlePadding": 1.5,
                           "gridDash": {"condition": {"test": "datum.value == 1 || datum.value == 10 || datum.value == 100 || datum.value == 1000", "value": []}, "value": [1, 3]},
                           "gridColor": {"condition": {"test": "datum.value == 1 || datum.value == 10 || datum.value == 100 || datum.value == 1000", "value": "#e0e0e0"}, "value": "#b8b8b8"}}},
            "y": {"field": "ulo", "type": "quantitative", "scale": {"domain": [-300, -50], "nice": false, "zero": false},
                  "axis": {"title": "Power/Frequency (dBm/Hz)", "values": [-300, -200, -100], "labelExpr": "'' + datum.value", "labelPadding": 13.7, "titlePadding": 7.5}},
            "y2": {"field": "uhi"}
          }
        },
        {
          "data": {"name": "psdl"},
          "transform": [{"filter": "datum.s == 'U'"}],
          "mark": {"type": "line", "color": "#0072BD", "strokeWidth": 1, "clip": true},
          "encoding": {"x": {"field": "f", "type": "quantitative", "axis": null}, "y": {"field": "v", "type": "quantitative", "axis": null}}
        },
        {
          "data": {"name": "psdl"},
          "transform": [{"filter": "datum.s == 'B'"}],
          "mark": {"type": "line", "color": "#EDB120", "strokeWidth": 1, "clip": true},
          "encoding": {"x": {"field": "f", "type": "quantitative", "axis": null}, "y": {"field": "v", "type": "quantitative", "axis": null}}
        },
        {
          "data": {"name": "psdb"},
          "mark": {"type": "area", "color": "#EDB120", "opacity": 1, "clip": true, "interpolate": "step"},
          "encoding": {
            "x": {"field": "f", "type": "quantitative",
                  "axis": {"orient": "top", "values": [1,2,3,4,5,6,7,8,9,10,20,30,40,50,60,70,80,90,100,200,300,400,500,600,700,800,900,1000], "labels": false, "title": null, "grid": false}},
            "y": {"field": "blo", "type": "quantitative",
                  "axis": {"orient": "right", "values": [-300, -200, -100], "labels": false, "title": null, "grid": false}},
            "y2": {"field": "bhi"}
          }
        }
      ]
    },
    {
      "width": 523, "height": 178,
      "title": {"text": "Cumulative PSD", "dy": 18},
      "resolve": {"axis": {"x": "independent", "y": "independent"}},
      "layer": [
        {
          "data": {"name": "cum"},
          "mark": {"type": "line", "strokeWidth": 1.2, "clip": true},
          "encoding": {
            "x": {"field": "f", "type": "quantitative", "scale": {"type": "log", "domain": [1, 1200], "nice": false},
                  "axis": {"title": "Frequency (Hz)",
                           "values": [1,2,3,4,5,6,7,8,9,10,20,30,40,50,60,70,80,90,100,200,300,400,500,600,700,800,900,1000],
                           "labelExpr": "datum.value == 1 ? '10⁰' : datum.value == 10 ? '10¹' : datum.value == 100 ? '10²' : datum.value == 1000 ? '10³' : ''",
                           "labelPadding": 25.2, "titlePadding": 1.5,
                           "gridDash": {"condition": {"test": "datum.value == 1 || datum.value == 10 || datum.value == 100 || datum.value == 1000", "value": []}, "value": [1, 3]},
                           "gridColor": {"condition": {"test": "datum.value == 1 || datum.value == 10 || datum.value == 100 || datum.value == 1000", "value": "#e0e0e0"}, "value": "#b8b8b8"}}},
            "y": {"field": "c", "type": "quantitative", "scale": {"domain": [0, 4e-6], "nice": false, "zero": false},
                  "axis": {"title": "CPSD (m²)", "values": [0, 2e-6, 4e-6], "labelExpr": "format(datum.value * 1e6, '.0f')", "labelPadding": 13.7, "titlePadding": 7.5}},
            "color": {"field": "series", "type": "nominal",
                      "scale": {"domain": ["Uncontrolled", "Background Noise"], "range": ["#0072BD", "#EDB120"]},
                      "legend": {"title": null, "orient": "none", "legendX": 299, "legendY": 76, "direction": "vertical",
                                 "symbolType": "M-1,0H3", "symbolSize": 484, "symbolStrokeWidth": 1,
                                 "labelFont": "Liberation Sans", "labelFontSize": 18, "labelColor": "#000000", "labelOffset": 28,
                                 "rowPadding": 2, "padding": 5, "strokeColor": "#262626", "fillColor": "#ffffff", "cornerRadius": 0}}
          }
        },
        {
          "data": {"name": "note"},
          "mark": {"type": "text", "align": "left", "baseline": "alphabetic", "fontSize": 18, "font": "Liberation Sans", "dx": 2, "dy": -3.5, "color": "#262626"},
          "encoding": {
            "x": {"field": "f", "type": "quantitative",
                  "axis": {"orient": "top", "values": [1,2,3,4,5,6,7,8,9,10,20,30,40,50,60,70,80,90,100,200,300,400,500,600,700,800,900,1000], "labels": false, "title": null, "grid": false}},
            "y": {"field": "c", "type": "quantitative",
                  "axis": {"orient": "right", "values": [0, 2e-6, 4e-6], "labels": false, "title": null, "grid": false}},
            "text": {"field": "label"}
          }
        }
      ]
    }
  ]
}
